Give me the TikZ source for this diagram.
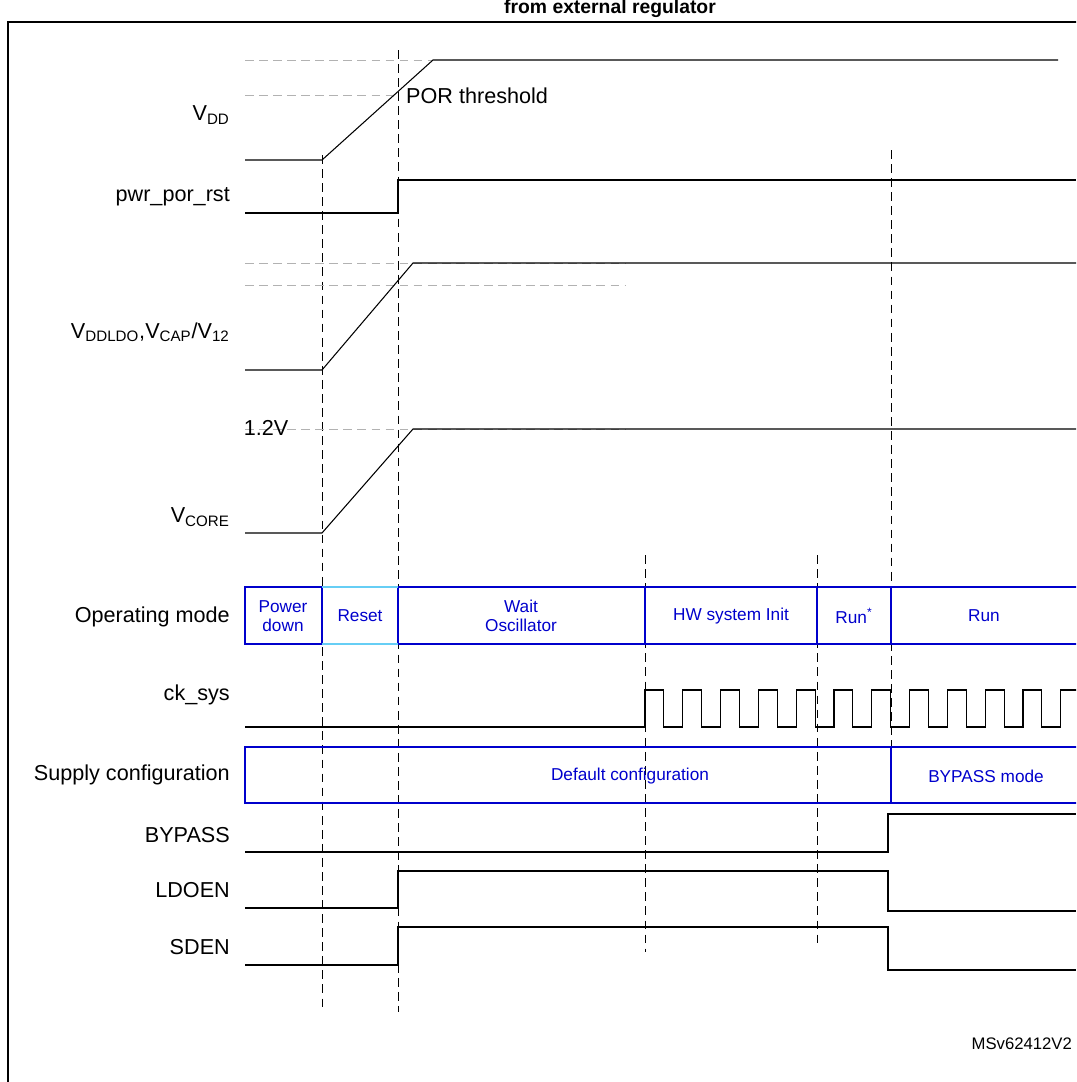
\documentclass[tikz,border=0pt]{standalone}
\usepackage{fontspec}
\setmainfont{Liberation Sans}
\usepackage{tikz}
\tikzset{
    sig/.style={black, line width=0.6pt},
    guide/.style={gray!60, dashed, dash pattern=on 5pt off 3pt, line width=0.5pt},
    marker/.style={black, dashed, dash pattern=on 5pt off 3pt, line width=0.5pt},
    modebox/.style={blue!80!black, line width=0.6pt},
    lbl/.style={anchor=east, font=\fontsize{12.3}{14}\selectfont},
    modetxt/.style={blue!80!black, align=center, font=\fontsize{9.8}{11}\selectfont}
}

\begin{document}
\begin{tikzpicture}[x=0.2mm, y=-0.2mm]
    \useasboundingbox (0,0) rectangle (1076,1082);
    \clip (0,0) rectangle (1076,1082);

    % Frame and title
    \draw[line width=0.8pt] (8,1100) -- (8,22) -- (1100,22);
    \node[font=\bfseries\fontsize{11}{13}\selectfont, inner sep=1pt] (title) at (610,9) {from external regulator};

    % Vertical markers
    \draw[marker] (322,155) -- (322,1008);
    \draw[marker] (398,50) -- (398,1012);
    \draw[marker] (645,555) -- (645,952);
    \draw[marker] (817,555) -- (817,948);
    \draw[marker] (891,150) -- (891,747);

    % Threshold guides
    \draw[guide] (245,60) -- (433,60);
    \draw[guide] (245,95) -- (398,95);
    \draw[guide] (245,263) -- (625,263);
    \draw[guide] (245,285) -- (625,285);
    \draw[guide] (245,429) -- (625,429);

    % VDD
    \node[lbl] (vdd) at (236,115) {V\textsubscript{DD}};
    \draw[sig] (245,160) -- (322,160) -- (433,60) -- (1058,60);
    \node[anchor=west, font=\fontsize{12.3}{14}\selectfont] (por) at (400,96) {POR threshold};

    % pwr_por_rst
    \node[lbl] (porrst) at (236,197) {pwr\_por\_rst};
    \draw[sig] (245,213) -- (398,213) -- (398,180) -- (1076,180);

    % VDDLDO
    \node[lbl] (vddldo) at (236,332) {V\textsubscript{DDLDO},V\textsubscript{CAP}/V\textsubscript{12}};
    \draw[sig] (245,370) -- (322,370) -- (413,263) -- (1076,263);

    % VCORE
    \node[font=\fontsize{12.3}{14}\selectfont, inner sep=1pt] (v12) at (266,428) {1.2V};
    \node[lbl] (vcore) at (236,517) {V\textsubscript{CORE}};
    \draw[sig] (245,533) -- (322,533) -- (413,429) -- (1076,429);

    % Operating mode
    \node[lbl] (opmode) at (236,617) {Operating mode};
    \draw[modebox] (1090,587) -- (245,587) -- (245,644) -- (1090,644);
    \foreach \x in {322,398,645,817,891}
        \draw[modebox] (\x,587) -- (\x,644);
    \draw[cyan!60, line width=0.6pt] (322,587) -- (398,587) (322,644) -- (398,644);
    \node[modetxt] (pd) at (283,616) {Power\\down};
    \node[modetxt] (rst) at (360,616) {Reset};
    \node[modetxt] (wait) at (521,616) {Wait\\Oscillator};
    \node[modetxt] (hw) at (731,616) {HW system Init};
    \node[modetxt] (runa) at (854,616) {Run\textsuperscript{*}};
    \node[modetxt] (run) at (984,616) {Run};

    % ck_sys
    \node[lbl] (ck) at (236,695) {ck\_sys};
    \draw[sig] (245,727) -- (645,727)
        \foreach \i in {0,...,11} {
            -- ++(0,-37) -- ++(18.9,0) -- ++(0,37) -- ++(18.9,0)
        };

    % Supply configuration
    \node[lbl] (supply) at (236,775) {Supply configuration};
    \draw[modebox] (1090,747) -- (245,747) -- (245,803) -- (1090,803);
    \draw[modebox] (891,747) -- (891,803);
    \node[modetxt] (def) at (630,776) {Default configuration};
    \node[modetxt] (byp) at (986,776) {BYPASS mode};

    % BYPASS
    \node[lbl] (bypass) at (236,835) {BYPASS};
    \draw[sig] (245,852) -- (888,852) -- (888,814) -- (1076,814);

    % LDOEN
    \node[lbl] (ldoen) at (236,890) {LDOEN};
    \draw[sig] (245,908) -- (398,908) -- (398,871) -- (888,871) -- (888,911) -- (1076,911);

    % SDEN
    \node[lbl] (sden) at (236,947) {SDEN};
    \draw[sig] (245,965) -- (398,965) -- (398,927) -- (888,927) -- (888,970) -- (1076,970);

    % Figure id
    \node[anchor=east, inner sep=1pt, font=\fontsize{9.5}{11}\selectfont] (fid) at (1074,1044) {MSv62412V2};
\end{tikzpicture}
\end{document}
